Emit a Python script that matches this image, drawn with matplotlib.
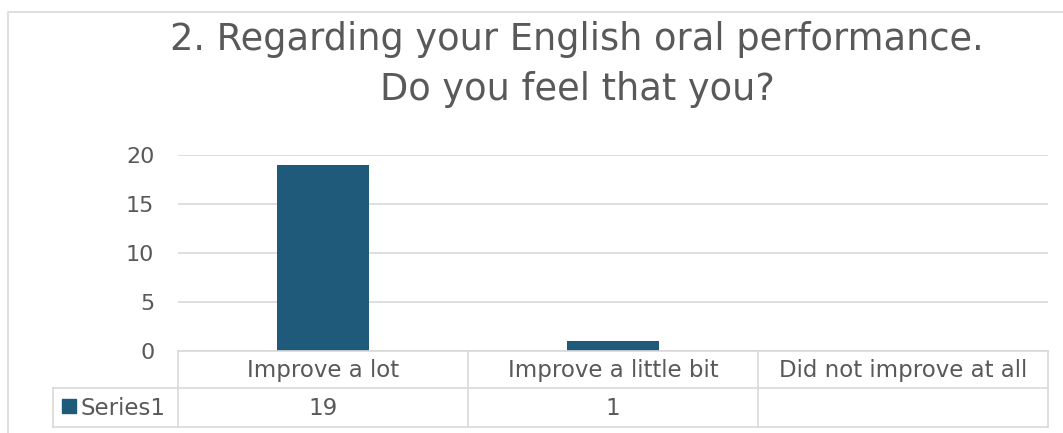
import matplotlib.pyplot as plt
from matplotlib.patches import Rectangle

categories = ['Improve a lot', 'Improve a little bit', 'Did not improve at all']
series_name = 'Series1'
values = [19, 1, None]
yticks = [0, 5, 10, 15, 20]
title_lines = ['2. Regarding your English oral performance.', 'Do you feel that you?']

W, H = 1063, 433
bar_color = '#1f5a7b'
grid_color = '#d9d9d9'
text_color = '#595959'

plt.rcParams['font.family'] = ['DejaVu Sans']
fig = plt.figure(figsize=(W / 100, H / 100), dpi=100)

# plot area in pixel terms
x0, x1 = 178, 1048
y_top, y_bot = 155, 351
ax = fig.add_axes([x0 / W, 1 - y_bot / H, (x1 - x0) / W, (y_bot - y_top) / H])

pos = list(range(len(categories)))
heights = [v if v is not None else 0 for v in values]
ax.bar(pos, heights, width=0.315, color=bar_color, zorder=3)
ax.set_xlim(-0.5, len(categories) - 0.5)
ax.set_ylim(0, 20)
ax.set_yticks(yticks)
ax.set_yticklabels([str(t) for t in yticks], fontsize=16, color=text_color)
ax.tick_params(axis='y', length=0, pad=17)
ax.set_xticks([])
ax.grid(axis='y', color=grid_color, linewidth=1.2, zorder=0)
for s in ax.spines.values():
    s.set_visible(False)

# overlay in pixel coordinates for frame, title and data table
ov = fig.add_axes([0, 0, 1, 1], zorder=5)
ov.set_xlim(0, W)
ov.set_ylim(H, 0)
ov.axis('off')
ov.patch.set_alpha(0)

ov.plot([8, 8, W + 5], [H + 5, 12, 12], color=grid_color, lw=1.2)

for line, base in zip(title_lines, [50, 100]):
    ov.text(577, base, line, ha='center', va='baseline', fontsize=26.5,
            color=text_color)

row1, row2, row3 = 351, 388, 427
col_left = 53
col_w = (x1 - x0) / len(categories)
lw = 1.2
# horizontal table lines
ov.plot([x0, x1], [row1, row1], color=grid_color, lw=lw)
ov.plot([col_left, x1], [row2, row2], color=grid_color, lw=lw)
ov.plot([col_left, x1], [row3, row3], color=grid_color, lw=lw)
# vertical table lines
ov.plot([col_left, col_left], [row2, row3], color=grid_color, lw=lw)
for i in range(len(categories) + 1):
    xx = x0 + i * col_w
    ov.plot([xx, xx], [row1, row3], color=grid_color, lw=lw)

for i, (cat, v) in enumerate(zip(categories, values)):
    cx = x0 + (i + 0.5) * col_w
    ov.text(cx, (row1 + row2) / 2 + 1, cat, ha='center', va='center',
            fontsize=16.5, color=text_color)
    if v is not None:
        ov.text(cx, (row2 + row3) / 2 + 1, str(v), ha='center', va='center',
                fontsize=16.5, color=text_color)

ov.add_patch(Rectangle((62, 399), 14, 14, color=bar_color))
ov.text(81, (row2 + row3) / 2 + 1, series_name, ha='left', va='center',
        fontsize=16.5, color=text_color)

fig.savefig('out.png', dpi=100)
